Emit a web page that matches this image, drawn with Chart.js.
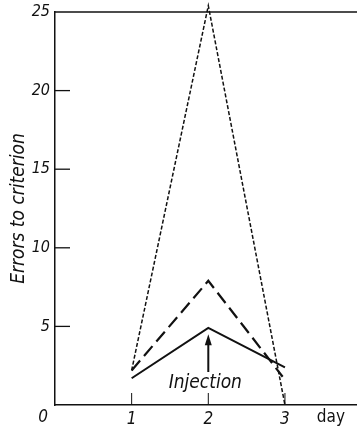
<!DOCTYPE html>
<html>
<head>
<meta charset="utf-8">
<script src="https://cdn.jsdelivr.net/npm/chart.js@4/dist/chart.umd.min.js"></script>
<style>
  html, body { margin: 0; padding: 0; background: #fff; }
  #wrap { width: 357px; height: 430px; }
</style>
</head>
<body>
<div id="wrap"><canvas id="errorsChart"></canvas></div>
<script>
// days and the three curves
const days = [1, 2, 3];
const solidErrors = [1.7, 4.9, 2.4];
const dashedErrors = [2.2, 7.9, 1.8];
const dottedErrors = [2.2, 25.4, 0];
const yTicks = [5, 10, 15, 20, 25];
const xTicks = [1, 2, 3];

const FONT = '"Liberation Sans Narrow", "DejaVu Sans Condensed", sans-serif';

function pts(vals) {
    return days.map((d, i) => ({ x: d, y: vals[i] }));
}
// dashed line stops a bit short of day 3
const dashedPts = pts(dashedErrors);
dashedPts[2].x = 2.97;

// frame, inward ticks and annotations
const extras = {
    id: 'extras',
    afterDraw(chart) {
        const ctx = chart.ctx;
        const xs = chart.scales.x, ys = chart.scales.y;
        const a = chart.chartArea;
        ctx.save();
        ctx.strokeStyle = '#111';
        ctx.lineWidth = 1.3;
        // top line
        ctx.beginPath();
        ctx.moveTo(a.left, a.top);
        ctx.lineTo(a.right, a.top);
        ctx.stroke();
        // y ticks pointing inward
        yTicks.slice(0, -1).forEach(v => {
            const y = ys.getPixelForValue(v);
            ctx.beginPath();
            ctx.moveTo(a.left, y);
            ctx.lineTo(a.left + 15, y);
            ctx.stroke();
        });
        // x ticks pointing inward
        ctx.lineWidth = 1;
        xTicks.forEach(v => {
            const x = xs.getPixelForValue(v);
            ctx.beginPath();
            ctx.moveTo(x, a.bottom);
            ctx.lineTo(x, a.bottom - 12);
            ctx.stroke();
        });
        // origin and unit labels
        ctx.fillStyle = '#111';
        ctx.font = 'italic 17px ' + FONT;
        ctx.textAlign = 'center';
        ctx.textBaseline = 'middle';
        ctx.fillText('0', xs.getPixelForValue(0) - 12, a.bottom + 13);
        ctx.font = '17px ' + FONT;
        ctx.fillText('day', xs.getPixelForValue(3.6), a.bottom + 13);
        // injection arrow
        const ax = xs.getPixelForValue(2);
        const yTip = ys.getPixelForValue(4.5), yBase = ys.getPixelForValue(2.1);
        ctx.lineWidth = 2;
        ctx.beginPath();
        ctx.moveTo(ax, yBase);
        ctx.lineTo(ax, yTip + 6);
        ctx.stroke();
        ctx.beginPath();
        ctx.moveTo(ax, yTip);
        ctx.lineTo(ax - 3.5, yTip + 11);
        ctx.lineTo(ax + 3.5, yTip + 11);
        ctx.closePath();
        ctx.fill();
        ctx.font = 'italic 19px ' + FONT;
        ctx.fillText('Injection', ax - 3, ys.getPixelForValue(1.4));
        ctx.restore();
    }
};

new Chart(document.getElementById('errorsChart'), {
    type: 'line',
    data: {
        datasets: [
            {
                label: 'solid',
                data: pts(solidErrors),
                borderColor: '#111',
                borderWidth: 2,
                pointRadius: 0,
                tension: 0
            },
            {
                label: 'dashed',
                data: dashedPts,
                borderColor: '#111',
                borderWidth: 2.2,
                borderDash: [13, 6],
                pointRadius: 0,
                tension: 0
            },
            {
                label: 'dotted',
                data: pts(dottedErrors),
                borderColor: '#111',
                borderWidth: 1.5,
                borderDash: [4, 2],
                pointRadius: 0,
                tension: 0
            }
        ]
    },
    options: {
        responsive: true,
        maintainAspectRatio: false,
        animation: false,
        clip: false,
        layout: { padding: { top: 12, right: 0, left: 0, bottom: 0 } },
        plugins: {
            legend: { display: false },
            tooltip: { enabled: false }
        },
        scales: {
            x: {
                type: 'linear',
                min: 0,
                max: 3.94,
                afterBuildTicks: s => { s.ticks = xTicks.map(v => ({ value: v })); },
                afterFit: s => { s.height = 25; s.paddingLeft = 0; s.paddingRight = 0; },
                grid: { display: false, drawTicks: false },
                border: { display: true, color: '#111', width: 1.5 },
                ticks: {
                    color: '#111',
                    padding: 4,
                    maxRotation: 0,
                    font: { family: FONT, size: 17, style: 'italic' }
                }
            },
            y: {
                min: 0,
                max: 25,
                afterBuildTicks: s => { s.ticks = yTicks.map(v => ({ value: v })); },
                afterFit: s => { s.width = 55; s.paddingTop = 0; s.paddingBottom = 0; },
                grid: { display: false, drawTicks: false },
                border: { display: true, color: '#111', width: 1.5 },
                ticks: {
                    color: '#111',
                    padding: 5,
                    font: { family: FONT, size: 16, style: 'italic' }
                },
                title: {
                    display: true,
                    text: 'Errors to criterion',
                    color: '#111',
                    padding: { top: 8, bottom: 0 },
                    font: { family: FONT, size: 19, style: 'italic' }
                }
            }
        }
    },
    plugins: [extras]
});
</script>
</body>
</html>
